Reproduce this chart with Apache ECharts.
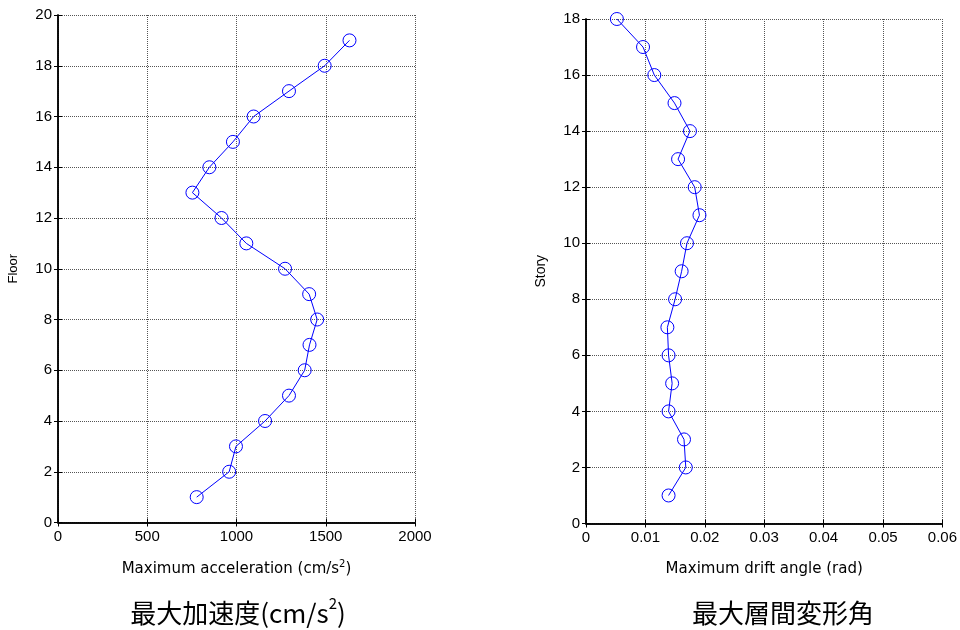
<!DOCTYPE html>
<html>
<head>
<meta charset="utf-8">
<script src="https://cdn.jsdelivr.net/npm/echarts@6/dist/echarts.min.js"></script>
<style>html,body{margin:0;padding:0;background:#fff}#c{width:960px;height:630px}</style>
</head>
<body>
<div id="c"></div>
<script>
// Left panel: maximum acceleration by floor
var floors = [1,2,3,4,5,6,7,8,9,10,11,12,13,14,15,16,17,18,19];
var accel = [777,959,997,1160,1294,1382,1409,1452,1407,1272,1055,916,753,848,980,1096,1294,1494,1633];
// Right panel: maximum drift angle by story
var stories = [1,2,3,4,5,6,7,8,9,10,11,12,13,14,15,16,17,18];
var drift = [0.0139,0.0168,0.0165,0.0139,0.0145,0.0139,0.0137,0.0150,0.0161,0.0170,0.0191,0.0183,0.0155,0.0175,0.0149,0.0115,0.0096,0.0052];

var chart = echarts.init(document.getElementById('c'), null, {renderer:'canvas'});

var numFont = "'Liberation Sans', Arial, sans-serif";
var gridLine = {show:true, lineStyle:{color:'#555', type:'dotted', width:1}};
var axLine = {show:true, lineStyle:{color:'#000', width:1.5}};
var tick = {show:true, inside:true, length:4, lineStyle:{color:'#000', width:1}};
var nameFont = {color:'#000', fontFamily:'DejaVu Sans', fontSize:15,
  rich:{
    n:{fontSize:15, fontFamily:'DejaVu Sans', color:'#000', lineHeight:20},
    sup:{fontSize:10, fontFamily:'DejaVu Sans', color:'#000', lineHeight:10, verticalAlign:'top'}
  }};
function fmt(v){ return String(+v.toFixed(4)); }

function mkX(gi, min, max, interval, name, pos, gap) {
  var bottom = pos === 'bottom';
  return {
    type:'value', gridIndex:gi, position:pos, min:min, max:max, interval:interval,
    name: bottom ? name : '', nameLocation:'middle', nameGap:gap || 40, nameTextStyle:nameFont,
    axisLine:axLine, axisTick:tick,
    axisLabel:{show:bottom, margin:7, fontFamily:numFont, fontSize:15, color:'#000',
      formatter:fmt, showMinLabel:true, showMaxLabel:true},
    splitLine: bottom ? gridLine : {show:false}
  };
}
function mkY(gi, min, max, interval, name, pos, fs) {
  var left = pos === 'left';
  return {
    type:'value', gridIndex:gi, position:pos, min:min, max:max, interval:interval,
    name: left ? name : '', nameLocation:'middle', nameGap:38,
    nameTextStyle:{color:'#000', fontFamily:numFont, fontSize:fs},
    axisLine:axLine, axisTick:tick,
    axisLabel:{show:left, margin:6, fontFamily:numFont, fontSize:15, color:'#000',
      formatter:fmt, showMinLabel:true, showMaxLabel:true},
    splitLine: left ? gridLine : {show:false}
  };
}

var option = {
  animation:false,
  backgroundColor:'#fff',
  grid:[
    {left:58, top:15, width:357, height:507.5},
    {left:586, top:19, width:357, height:504.5}
  ],
  xAxis:[
    mkX(0, 0, 2000, 500, '{n|Maximum acceleration (cm/s}{sup|2}{n|)}', 'bottom', 37),
    mkX(0, 0, 2000, 500, '', 'top'),
    mkX(1, 0, 0.06, 0.01, 'Maximum drift angle (rad)', 'bottom', 38),
    mkX(1, 0, 0.06, 0.01, '', 'top')
  ],
  yAxis:[
    mkY(0, 0, 20, 2, 'Floor', 'left', 13),
    mkY(0, 0, 20, 2, '', 'right', 13),
    mkY(1, 0, 18, 2, 'Story', 'left', 14),
    mkY(1, 0, 18, 2, '', 'right', 14)
  ],
  series:[
    {type:'line', xAxisIndex:0, yAxisIndex:0,
     data: floors.map(function(f,i){return [accel[i], f];}),
     symbol:'circle', symbolSize:13, showSymbol:true,
     lineStyle:{color:'#0000ff', width:1},
     itemStyle:{color:'transparent', borderColor:'#0000ff', borderWidth:1}},
    {type:'line', xAxisIndex:2, yAxisIndex:2,
     data: stories.map(function(s,i){return [drift[i], s];}),
     symbol:'circle', symbolSize:13, showSymbol:true,
     lineStyle:{color:'#0000ff', width:1},
     itemStyle:{color:'transparent', borderColor:'#0000ff', borderWidth:1}}
  ],
  graphic:[
    {type:'text', x:238, y:613, style:{
      text:'{n|最大加速度(cm/s}{sup|2}{n|)}', fill:'#000',
      fontFamily:'Noto Sans CJK JP', fontSize:26,
      textAlign:'center', textVerticalAlign:'middle',
      rich:{
        n:{fontSize:26, fontFamily:'Noto Sans CJK JP', fill:'#000', lineHeight:34},
        sup:{fontSize:15, fontFamily:'Noto Sans CJK JP', fill:'#000', lineHeight:16, verticalAlign:'top'}
      }}},
    {type:'text', x:783, y:613, style:{
      text:'最大層間変形角', fill:'#000', fontFamily:'Noto Sans CJK JP', fontSize:26,
      textAlign:'center', textVerticalAlign:'middle'}}
  ]
};
chart.setOption(option);
</script>
</body>
</html>
